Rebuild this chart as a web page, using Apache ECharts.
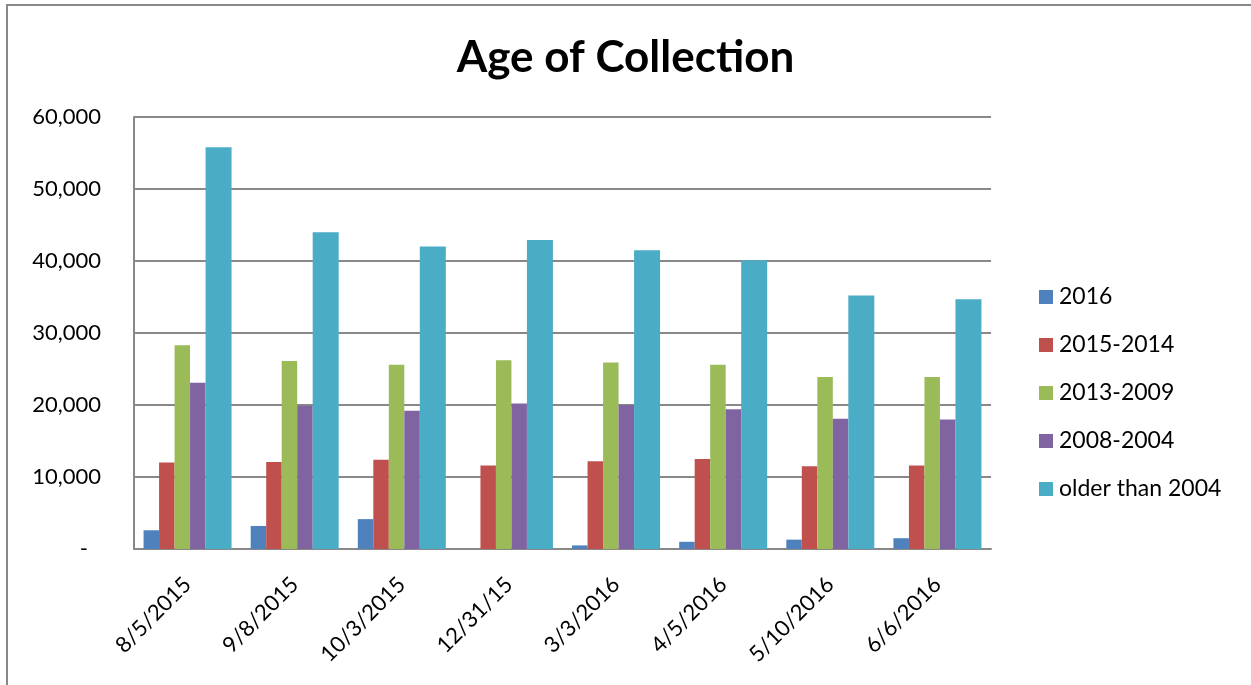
<!DOCTYPE html>
<html>
<head>
<meta charset="utf-8">
<script src="https://cdn.jsdelivr.net/npm/echarts@6/dist/echarts.min.js"></script>
<style>
  html, body { margin: 0; padding: 0; background: #fff; }
  #main { width: 1251px; height: 685px; }
</style>
</head>
<body>
<div id="main"></div>
<script>
// categories (x axis)
var dates = ['8/5/2015', '9/8/2015', '10/3/2015', '12/31/15', '3/3/2016', '4/5/2016', '5/10/2016', '6/6/2016'];

// series values
var s2016 = [2600, 3200, 4150, 0, 500, 1000, 1300, 1500];
var s2015_2014 = [12000, 12100, 12400, 11600, 12200, 12500, 11500, 11600];
var s2013_2009 = [28300, 26100, 25600, 26200, 25900, 25600, 23900, 23900];
var s2008_2004 = [23100, 19900, 19200, 20200, 20000, 19400, 18100, 18000];
var sOlder = [55800, 44000, 42000, 42900, 41500, 40100, 35200, 34700];

var seriesNames = ['2016', '2015-2014', '2013-2009', '2008-2004', 'older than 2004'];
var seriesColors = ['#4F81BD', '#C0504D', '#9BBB59', '#8064A2', '#4BACC6'];
var seriesData = [s2016, s2015_2014, s2013_2009, s2008_2004, sOlder];
// the last series is drawn wider than the others in the original
var barWidths = [15.5, 15.5, 15.5, 15.5, 26];

var chart = echarts.init(document.getElementById('main'));

var font = 'Lato, "Open Sans", sans-serif';

var series = seriesNames.map(function (name, i) {
    return {
        name: name,
        type: 'bar',
        data: seriesData[i],
        barGap: '0%',
        barWidth: barWidths[i],
        itemStyle: { color: seriesColors[i] }
    };
});

var option = {
    backgroundColor: '#fff',
    animation: false,
    textStyle: { fontFamily: font },
    title: {
        text: 'Age of Collection',
        left: 'center',
        top: 31,
        textStyle: { fontSize: 44, fontWeight: 'bold', color: '#000', fontFamily: font }
    },
    legend: {
        orient: 'vertical',
        left: 1034,
        top: 280,
        itemWidth: 14,
        itemHeight: 14,
        itemGap: 24,
        icon: 'rect',
        textStyle: { fontSize: 23, lineHeight: 24, color: '#000', fontFamily: font, padding: [0, 0, 0, 1] },
        data: seriesNames
    },
    grid: {
        left: 134,
        right: 260,
        top: 117,
        bottom: 136
    },
    xAxis: {
        type: 'category',
        data: dates,
        axisTick: { show: false },
        axisLine: { lineStyle: { color: '#888', width: 2 } },
        axisLabel: {
            rotate: 45,
            fontSize: 22,
            color: '#000',
            margin: 32,
            fontFamily: font
        }
    },
    yAxis: {
        type: 'value',
        min: 0,
        max: 60000,
        interval: 10000,
        axisLine: { show: true, lineStyle: { color: '#888', width: 2 } },
        axisTick: { show: false },
        splitLine: { lineStyle: { color: '#888', width: 2 } },
        axisLabel: {
            fontSize: 22,
            color: '#000',
            margin: 33,
            fontFamily: font,
            formatter: function (v) {
                if (v === 0) return '{dash|-}';
                return v.toLocaleString('en-US');
            },
            rich: {
                dash: { fontSize: 22, color: '#000', padding: [0, 13, 0, 0] }
            }
        }
    },
    graphic: [{
        type: 'rect',
        shape: { x: 7, y: 5, width: 1300, height: 720 },
        style: { fill: 'none', stroke: '#888', lineWidth: 2 },
        silent: true
    }],
    series: series
};

chart.setOption(option);
</script>
</body>
</html>
